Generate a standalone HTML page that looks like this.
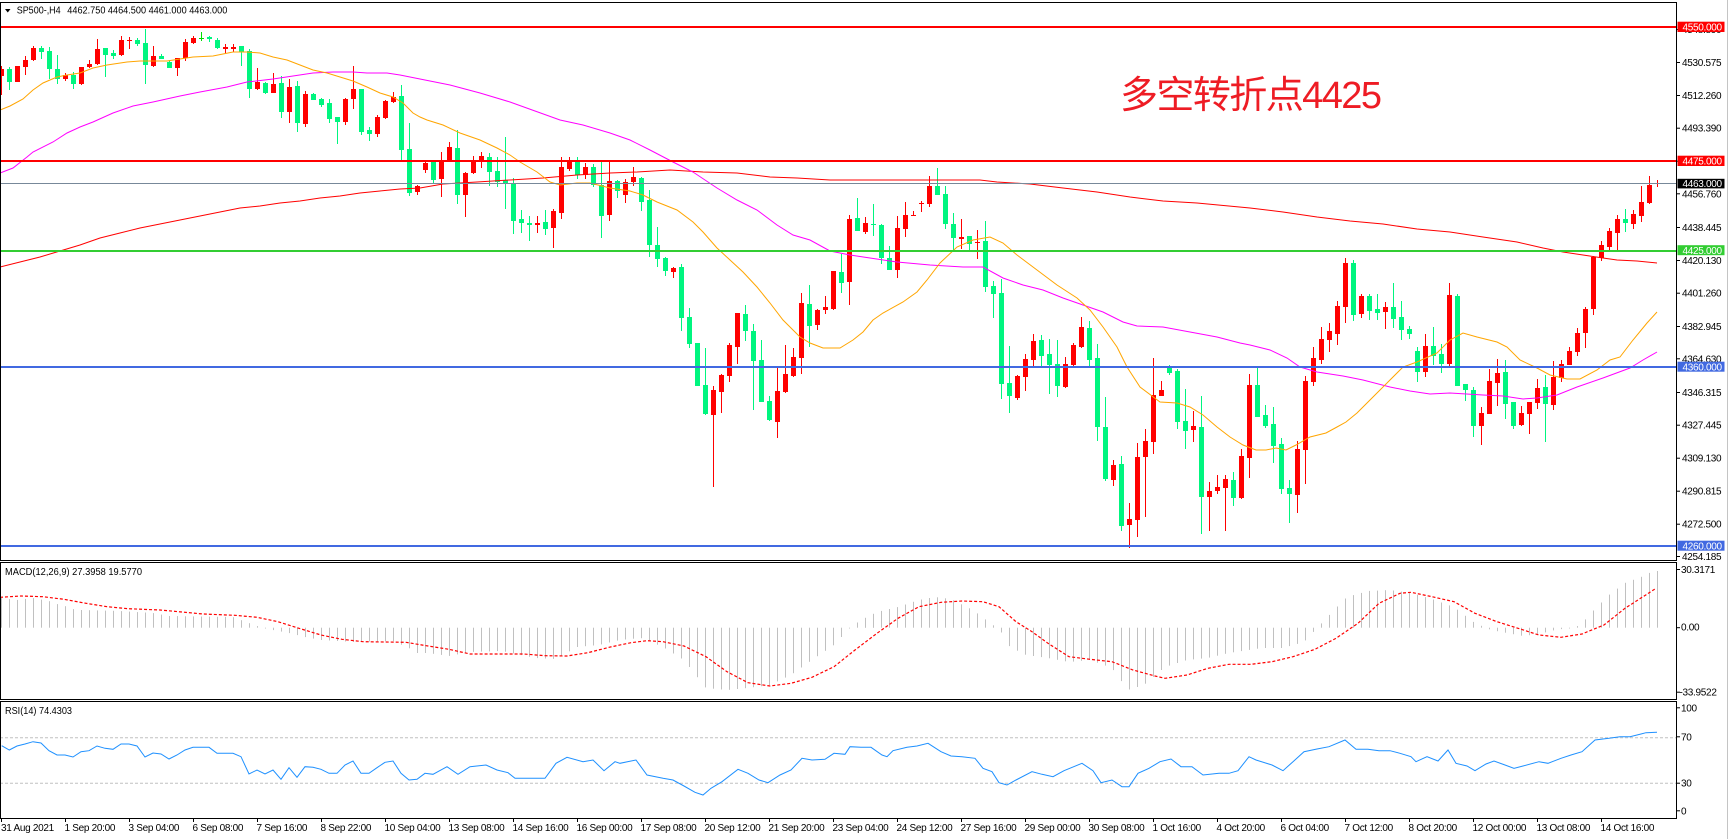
<!DOCTYPE html>
<html><head><meta charset="utf-8">
<style>
html,body{margin:0;padding:0;background:#fff;}
svg{display:block;}
text{font-family:"Liberation Sans",Arial,sans-serif;}
.ax{font-size:10px;letter-spacing:-0.3px;fill:#000;}
.wt{font-size:10px;letter-spacing:-0.3px;fill:#fff;}
</style></head>
<body>
<svg id="c" width="1729" height="839" viewBox="0 0 1729 839" xmlns="http://www.w3.org/2000/svg">
<rect width="1729" height="839" fill="#fff"/>
<defs>
<clipPath id="cm"><rect x="0" y="3" width="1676" height="557"/></clipPath>
<clipPath id="cd"><rect x="0" y="563" width="1676" height="136"/></clipPath>
<clipPath id="cr"><rect x="0" y="702" width="1676" height="116"/></clipPath>
</defs>

<!-- MAIN -->
<g clip-path="url(#cm)">
<g id="candles"></g>
<polyline fill="none" stroke="#ff0000" stroke-width="1" points="0,267 20,262 40,257 60,251 80,245 100,238 120,233 140,228 160,224 180,220 200,216 220,212 240,208 260,206 280,203 300,201 320,198 340,196 360,193 380,191 400,189 420,188 443,184 477,182 510,180 543,178 577,175 610,173 637,172 670,170 703,172 737,173 770,177 797,178 830,180 853,180 897,180 980,180 997,182 1030,184 1063,188 1097,192 1130,197 1163,201 1197,203 1250,208 1283,212 1317,217 1350,221 1383,224 1417,229 1450,232 1483,237 1517,242 1543,248 1563,252 1583,255 1603,258 1617,260 1637,261 1657,263"/>
<polyline fill="none" stroke="#ff00ff" stroke-width="1" points="0,173 13,168 27,157 33,152 53,142 67,133 80,127 93,122 113,113 133,106 153,102 180,96 200,92 227,87 247,82 273,79 293,76 313,73 333,72 353,72 367,73 387,73 400,75 420,79 450,85 480,93 510,102 535,111 560,120 583,125 610,133 630,140 650,150 673,162 693,172 717,188 737,200 757,210 777,225 793,235 810,240 830,251 850,255 870,258 897,262 930,265 963,267 983,267 1003,278 1023,285 1043,290 1063,298 1083,305 1103,312 1123,322 1137,326 1163,327 1190,332 1217,337 1240,343 1250,345 1270,350 1287,358 1300,367 1317,372 1343,376 1363,380 1390,387 1410,391 1430,394 1450,393 1483,395 1503,396 1523,399 1537,398 1557,395 1577,387 1603,378 1630,368 1643,360 1657,352"/>
<polyline fill="none" stroke="#ffa500" stroke-width="1" points="0,110 10,106 23,99 33,90 43,83 57,77 67,75 80,73 93,68 107,65 127,62 140,61 167,61 180,59 193,57 213,56 233,52 247,52 260,53 273,57 287,60 300,65 313,70 327,73 340,77 353,81 367,87 380,93 393,97 403,103 413,113 420,117 427,120 443,125 460,133 480,140 497,148 510,155 520,162 537,172 550,182 560,185 577,183 590,183 610,188 630,191 643,195 657,202 677,210 693,222 703,232 717,248 730,260 743,272 757,287 770,303 783,320 800,337 810,343 823,348 840,348 853,340 863,332 873,320 883,313 903,302 917,292 927,280 940,263 957,247 973,240 990,237 1003,243 1017,255 1037,270 1057,285 1077,298 1090,310 1103,327 1117,347 1127,367 1140,387 1160,402 1177,403 1190,407 1203,415 1217,427 1230,437 1243,445 1256,450 1266,450 1276,448 1286,450 1296,445 1310,437 1326,433 1337,427 1346,422 1357,413 1370,400 1390,380 1403,367 1417,362 1437,353 1450,340 1463,333 1477,337 1497,342 1507,347 1520,360 1537,368 1550,375 1567,379 1580,379 1597,370 1610,360 1620,357 1633,340 1647,323 1657,312"/>
<rect x="0" y="26" width="1676" height="2" fill="#ff0000"/>
<rect x="0" y="160" width="1676" height="2" fill="#ff0000"/>
<rect x="0" y="183" width="1676" height="1" fill="#778899"/>
<rect x="0" y="250" width="1676" height="2" fill="#32cd32"/>
<rect x="0" y="366" width="1676" height="2" fill="#4169e1"/>
<rect x="0" y="545" width="1676" height="2" fill="#4169e1"/>
</g>

<text x="1120" y="108" font-size="38" fill="#ee1c24" textLength="262" style='font-family:"Liberation Sans","Noto Sans CJK SC",sans-serif;'>多空转折点4425</text>

<!-- header -->
<polygon points="5,9 10.5,9 7.75,12.5" fill="#000"/>
<text x="16.7" y="13.5" font-size="10" textLength="44" lengthAdjust="spacingAndGlyphs">SP500-,H4</text>
<text x="67.3" y="13.5" font-size="10" textLength="160" lengthAdjust="spacingAndGlyphs">4462.750 4464.500 4461.000 4463.000</text>

<!-- MACD -->
<g clip-path="url(#cd)">
<g id="hist"></g>
<polyline fill="none" stroke="#ff0000" stroke-width="1.2" stroke-dasharray="3,2" points="0,597.3 21,596 43,596.7 64,599.3 86,603.3 107,606.7 128,608.7 160,610 182,612 203,614 235,615.3 257,617.3 278,621.7 299,628.3 321,635 342,639.3 363,641.7 406,642.3 428,646 449,649.3 470,654 524,654 545,655.7 567,656 588,652.7 609,647.3 631,642.7 647,640.7 663,641.7 684,646 706,656.7 727,671.7 748,682.7 770,686 791,683.3 812,677.3 834,666.7 855,650 877,633.3 898,618.3 919,606.7 941,602.3 962,601 983,601.7 999,606.7 1016,621.7 1032,631.7 1048,643.3 1069,656.7 1090,659.3 1112,661.7 1133,670 1155,676 1165,678.3 1187,675 1208,668.3 1229,664.3 1251,664.3 1272,661.7 1293,656.7 1315,649.3 1336,638.3 1358,623.3 1379,603.3 1400,593.3 1411,592.3 1432,596.7 1454,601.7 1475,613.3 1497,621.7 1518,628.3 1539,635 1561,637.3 1582,634 1604,625 1625,608.3 1655,589"/>
</g>
<text x="5" y="575" font-size="10" textLength="137" lengthAdjust="spacingAndGlyphs">MACD(12,26,9) 27.3958 19.5770</text>

<!-- RSI -->
<g clip-path="url(#cr)">
<line x1="0" y1="737.7" x2="1676" y2="737.7" stroke="#c0c0c0" stroke-width="1" stroke-dasharray="3,2"/>
<line x1="0" y1="783.3" x2="1676" y2="783.3" stroke="#c0c0c0" stroke-width="1" stroke-dasharray="3,2"/>
<polyline fill="none" stroke="#1e90ff" stroke-width="1" points="1.7,745.7 9.3,750 17,746 25,744 33,741.7 41,743 49,750.7 57,755 65,755 73,757 81,751.7 89,750.7 97,746 105,748.3 113,749.3 121,744 129,744 137,746 145,757 153,753 161,754 169,759 177,755 185,750 193,747.3 209,747.3 217,753.3 233,753.3 241,756.7 249,774 257,770 265,774 273,770 281,779.3 289,767.7 297,777.3 305,766.7 313,767.3 321,769.3 329,773.3 337,773.3 345,765 353,761 361,773.3 369,773.3 377,767.7 385,762.3 393,761 401,773.3 409,780 417,779.3 425,773.3 433,774.3 447,766.7 458,774.3 470,766.7 486,765 497,770 508,772.7 515,778.3 545,778.3 556,763.3 567,757.3 583,761.7 593,760 604,770.7 615,761.7 620,763.3 636,760 647,775 663,778.3 673,780 684,786 695,792.3 703,795 711,788.3 722,781.7 738,769.3 748,773.3 759,780 768,782.7 780,775 791,770 802,758.3 812,760 825,759.3 834,753.3 845,754.3 850,746.7 861,747.3 871,747.3 882,755 887,756.7 893,750.7 907,747.3 917,746 928,743.3 941,751.7 951,756 962,756.7 975,758.3 983,768.3 992,771.7 999,782.7 1007,785 1016,780 1032,771.7 1042,774.3 1053,776.7 1064,770.7 1082,763.3 1093,770.7 1101,782.7 1112,780 1122,786.7 1129,786.7 1138,773.3 1149,768.3 1160,761.7 1171,759 1181,766.7 1192,766.7 1203,775 1219,773.3 1229,773.3 1238,770.7 1249,756.7 1256,760 1272,765 1283,770.7 1293,761.7 1304,751.7 1317,749 1329,746.7 1345,740 1356,749.3 1368,749.3 1379,750.7 1390,750.7 1400,753.3 1411,756.7 1416,761.7 1427,756.7 1438,761 1448,750 1456,763.3 1467,766 1475,770.7 1486,764 1494,761 1505,765 1514,768.3 1523,766 1539,761.7 1548,763.3 1561,758.3 1571,755 1582,751.7 1595,740 1609,738.3 1620,736.7 1630,736.7 1641,734 1646,732.7 1657,732.3"/>
</g>
<text x="5" y="714" font-size="10" textLength="67" lengthAdjust="spacingAndGlyphs">RSI(14) 74.4303</text>

<!-- panel borders -->
<g fill="none" stroke="#000" stroke-width="1">
<rect x="0.5" y="2.5" width="1676" height="558"/>
<rect x="0.5" y="562.5" width="1676" height="137"/>
<rect x="0.5" y="701.5" width="1676" height="117"/>
</g>
<line x1="1727.5" y1="0" x2="1727.5" y2="839" stroke="#c4c4c4" stroke-width="1"/>

<!-- right axis ticks & labels main -->
<g stroke="#000" stroke-width="1" id="rt"></g>
<g class="ax">
<text x="1682" y="33">4548.890</text>
<text x="1682" y="66">4530.575</text>
<text x="1682" y="99">4512.260</text>
<text x="1682" y="131.7">4493.390</text>
<text x="1682" y="164.7">4475.075</text>
<text x="1682" y="197.3">4456.760</text>
<text x="1682" y="231">4438.445</text>
<text x="1682" y="264">4420.130</text>
<text x="1682" y="296.7">4401.260</text>
<text x="1682" y="330">4382.945</text>
<text x="1682" y="362.3">4364.630</text>
<text x="1682" y="396">4346.315</text>
<text x="1682" y="428.7">4327.445</text>
<text x="1682" y="461.7">4309.130</text>
<text x="1682" y="494.7">4290.815</text>
<text x="1682" y="527.7">4272.500</text>
<text x="1682" y="560">4254.185</text>
<text x="1681" y="573">30.3171</text>
<text x="1681" y="630.7">0.00</text>
<text x="1679.5" y="695.7">-33.9522</text>
<text x="1681" y="711.3">100</text>
<text x="1681" y="740.3">70</text>
<text x="1681" y="786.7">30</text>
<text x="1681" y="814.3">0</text>
</g>
<!-- level boxes -->
<rect x="1677.5" y="21.7" width="47" height="10.3" fill="#ff0000"/>
<text class="wt" x="1682.5" y="30.3">4550.000</text>
<rect x="1677.5" y="155.7" width="47" height="10.3" fill="#ff0000"/>
<text class="wt" x="1682.5" y="164.3">4475.000</text>
<rect x="1677.5" y="178.8" width="47" height="9.6" fill="#000"/>
<text class="wt" x="1682.5" y="187">4463.000</text>
<rect x="1677.5" y="245.2" width="47" height="10" fill="#32cd32"/>
<text class="wt" x="1682.5" y="253.8">4425.000</text>
<rect x="1677.5" y="361.7" width="47" height="10" fill="#4169e1"/>
<text class="wt" x="1682.5" y="370.3">4360.000</text>
<rect x="1677.5" y="540.7" width="47" height="10" fill="#4169e1"/>
<text class="wt" x="1682.5" y="549.3">4260.000</text>

<!-- x axis -->
<g id="xt" stroke="#000" stroke-width="1"></g>
<g class="ax">
<text x="1" y="831">31 Aug 2021</text>
<text x="64.5" y="831">1 Sep 20:00</text>
<text x="128.5" y="831">3 Sep 04:00</text>
<text x="192.5" y="831">6 Sep 08:00</text>
<text x="256.5" y="831">7 Sep 16:00</text>
<text x="320.5" y="831">8 Sep 22:00</text>
<text x="384.5" y="831">10 Sep 04:00</text>
<text x="448.5" y="831">13 Sep 08:00</text>
<text x="512.5" y="831">14 Sep 16:00</text>
<text x="576.5" y="831">16 Sep 00:00</text>
<text x="640.5" y="831">17 Sep 08:00</text>
<text x="704.5" y="831">20 Sep 12:00</text>
<text x="768.5" y="831">21 Sep 20:00</text>
<text x="832.5" y="831">23 Sep 04:00</text>
<text x="896.5" y="831">24 Sep 12:00</text>
<text x="960.5" y="831">27 Sep 16:00</text>
<text x="1024.5" y="831">29 Sep 00:00</text>
<text x="1088.5" y="831">30 Sep 08:00</text>
<text x="1152.5" y="831">1 Oct 16:00</text>
<text x="1216.5" y="831">4 Oct 20:00</text>
<text x="1280.5" y="831">6 Oct 04:00</text>
<text x="1344.5" y="831">7 Oct 12:00</text>
<text x="1408.5" y="831">8 Oct 20:00</text>
<text x="1472.5" y="831">12 Oct 00:00</text>
<text x="1536.5" y="831">13 Oct 08:00</text>
<text x="1600.5" y="831">14 Oct 16:00</text>
</g>
</svg>
<script>
(function(){
var NS="http://www.w3.org/2000/svg";
var D=[
[1,66,69,76,95],[0,67,69,82,90],[1,66,66,82,82],[1,56,60,67,75],[1,46,48,60,61],[0,46,48,52,59],[0,47,51,69,79],[0,55,69,79,84],[1,73,75,79,81],[0,72,75,84,89],
[1,67,67,84,85],[1,60,64,67,68],[1,39,49,64,65],[0,48,48,55,77],[0,50,53,56,59],[1,36,40,55,56],[1,37,40,41,49],[0,38,40,44,46],[0,29,43,65,84],[1,46,56,66,67],
[0,54,56,59,59],[0,60,62,68,68],[1,58,58,68,76],[1,39,42,58,61],[1,36,38,43,44],[2,32,38,39,41],[0,36,37,39,42],[0,38,40,48,49],[1,44,47,49,53],[1,44,47,49,52],
[0,46,46,52,66],[0,49,51,89,98],[1,68,82,89,90],[0,82,83,93,94],[1,73,84,93,93],[0,76,83,112,118],[1,79,87,112,123],[0,81,86,123,132],[1,91,94,124,127],[0,93,94,100,100],
[0,98,99,105,107],[0,99,103,119,123],[0,117,117,122,144],[1,98,99,122,125],[1,66,89,99,109],[0,89,89,132,135],[0,127,130,134,141],[1,115,117,134,137],[1,100,101,118,119],[1,92,97,102,103],
[0,85,96,150,160],[0,123,149,193,196],[1,185,186,192,195],[1,162,163,170,173],[0,162,162,180,183],[1,152,162,179,197],[1,142,147,161,161],[0,130,148,195,204],[1,172,173,195,217],[1,156,160,173,174],
[1,152,156,161,168],[0,153,157,172,186],[0,157,171,182,187],[0,137,180,183,209],[0,178,183,221,234],[0,210,219,223,233],[0,216,223,225,241],[1,216,223,225,233],[0,210,222,229,235],[1,209,211,228,248],
[1,157,167,213,219],[1,157,161,169,171],[0,157,161,175,179],[1,163,167,175,179],[0,164,167,185,187],[0,161,185,216,238],[1,161,181,215,221],[0,180,181,191,198],[1,179,182,195,203],[1,167,177,182,186],
[0,177,178,202,211],[0,190,200,245,257],[0,227,245,259,267],[0,257,258,271,276],[1,267,268,272,278],[0,264,267,318,331],[0,308,317,344,348],[0,343,343,386,386],[0,348,385,414,415],[1,386,390,415,487],
[1,374,375,392,413],[1,343,345,376,382],[1,313,313,347,364],[0,305,314,331,341],[0,324,331,361,410],[0,340,360,402,402],[0,396,401,420,421],[1,367,391,422,438],[1,345,374,392,393],[1,348,357,376,377],
[1,293,303,358,374],[0,285,304,326,347],[1,309,310,325,330],[1,296,307,310,314],[1,271,271,309,310],[0,254,272,283,293],[1,215,219,282,305],[0,198,218,231,231],[1,217,223,232,234],[0,204,224,225,236],
[0,224,225,258,264],[0,246,258,270,270],[1,216,228,270,278],[1,202,215,229,237],[1,211,215,216,216],[1,201,203,204,212],[1,176,186,204,207],[0,168,186,195,195],[0,186,194,224,229],[0,213,224,238,250],
[1,219,237,239,249],[0,236,236,244,250],[1,230,242,243,259],[0,221,241,287,292],[0,281,286,294,318],[0,279,293,384,399],[0,346,383,396,413],[1,375,376,398,400],[1,354,359,377,391],[1,334,341,360,366],
[0,335,340,356,366],[0,339,354,365,394],[0,340,364,386,397],[1,357,364,387,388],[1,343,345,365,366],[1,317,327,347,348],[0,321,328,360,366],[0,344,358,427,441],[0,397,427,479,481],[1,460,465,480,486],
[0,456,464,526,531],[1,503,519,525,548],[1,443,457,520,537],[1,429,441,457,517],[1,358,395,442,454],[1,381,390,396,396],[0,365,367,373,375],[0,369,371,422,429],[0,389,421,431,449],[1,411,426,430,442],
[0,396,427,497,534],[1,482,491,497,531],[1,475,487,491,494],[1,475,479,488,531],[0,472,480,498,506],[1,449,456,498,499],[1,374,385,458,478],[0,367,385,417,417],[0,405,415,426,428],[0,407,424,446,463],
[0,438,444,489,494],[0,480,488,494,523],[1,441,449,495,513],[1,376,381,450,484],[1,347,358,382,386],[1,327,339,360,364],[1,323,331,340,352],[1,301,306,334,345],[1,258,263,307,323],[0,260,263,315,321],
[1,294,296,314,318],[0,294,296,311,320],[0,294,309,313,320],[1,302,307,312,329],[0,283,307,319,328],[0,301,317,330,340],[0,326,329,334,339],[0,347,351,372,382],[1,334,346,372,377],[0,327,346,356,365],
[0,344,354,364,373],[1,283,295,364,366],[0,294,296,386,386],[0,384,384,390,401],[0,387,390,426,437],[1,407,413,426,445],[1,369,381,414,414],[1,359,373,383,406],[0,360,372,404,419],[0,402,402,426,429],
[1,406,413,425,426],[1,402,402,414,434],[1,379,388,403,409],[0,375,387,404,442],[1,361,377,405,410],[1,360,364,378,382],[1,347,351,365,365],[1,328,333,352,356],[1,307,309,333,348],[1,256,257,309,315],
[1,241,245,258,261],[1,228,231,247,250],[1,215,219,233,250],[0,209,219,223,232],[1,210,214,224,229],[1,186,202,216,222],[1,176,185,203,204],[1,180,183,184,187]
];
var s="";
for(var i=0;i<D.length;i++){
  var d=D[i];
  var c=d[0]==1?"#ff0000":(d[0]==2?"#00e000":"#00f57f");
  var xw=8*i+1, xl=8*i-1;
  s+='<rect x="'+xw+'" y="'+d[1]+'" width="1" height="'+Math.max(1,d[4]-d[1])+'" fill="'+c+'"/>';
  s+='<rect x="'+xl+'" y="'+d[2]+'" width="5" height="'+Math.max(1,d[3]-d[2])+'" fill="'+c+'"/>';
}
document.getElementById("candles").innerHTML=s;

var E=[[1,598],[17,600],[33,598],[49,601],[57,604],[65,606],[73,609],[81,610],[120,611],[153,613],[169,616],[233,617],[249,623],[257,626],[265,628],[273,630],[289,633],[305,637],[321,640],[353,642],[393,641],[409,648],[417,653],[428,653],[449,656],[470,652],[502,651],[535,658],[556,659],[577,647],[599,645],[620,640],[641,638],[663,647],[684,660],[706,688],[727,690],[748,688],[770,685],[791,675],[812,660],[834,645],[850,628],[861,620],[877,612],[898,607],[919,600],[935,597],[951,599],[973,610],[989,622],[1000,630],[1010,647],[1026,655],[1048,658],[1069,662],[1090,660],[1112,668],[1128,690],[1144,685],[1165,667],[1187,660],[1208,658],[1229,653],[1262,648],[1283,648],[1304,642],[1320,625],[1336,608],[1347,597],[1368,591],[1390,590],[1411,593],[1432,599],[1454,607],[1475,623],[1491,630],[1507,633],[1523,636],[1539,634],[1555,630],[1570,628],[1578,626],[1585,620],[1593,611],[1601,603],[1609,595],[1617,589],[1625,583],[1633,580],[1641,577],[1649,573],[1657,571]];
function itp(x){
  if(x<=E[0][0])return E[0][1];
  for(var k=1;k<E.length;k++){
    if(x<=E[k][0]){var a=E[k-1],b=E[k];return a[1]+(b[1]-a[1])*(x-a[0])/(b[0]-a[0]);}
  }
  return E[E.length-1][1];
}
var z=627.7,h="";
for(var i=0;i<208;i++){
  var x=8*i+1.5,y=itp(x);
  var t=Math.min(y,z),bt=Math.max(y,z);
  h+='<rect x="'+(8*i+1)+'" y="'+t.toFixed(1)+'" width="1" height="'+Math.max(0.8,bt-t).toFixed(1)+'" fill="#c0c0c0"/>';
}
document.getElementById("hist").innerHTML=h;

var ys=[29.5,62.5,95.5,128.2,161.2,193.8,227.5,260.5,293.2,326.5,358.8,392.5,425.2,458.2,491.2,524.2,556.5,569.5,627.7,692.2,707.8,736.8,783.2,810.8];
var r="";
for(var j=0;j<ys.length;j++){r+='<line x1="1676" y1="'+ys[j]+'" x2="1680" y2="'+ys[j]+'"/>';}
document.getElementById("rt").innerHTML=r;
var xt="";
for(var k=0;k<26;k++){var xx=1.5+64*k;xt+='<line x1="'+xx+'" y1="818" x2="'+xx+'" y2="822"/>';}
document.getElementById("xt").innerHTML=xt;
})();
</script>
</body></html>
